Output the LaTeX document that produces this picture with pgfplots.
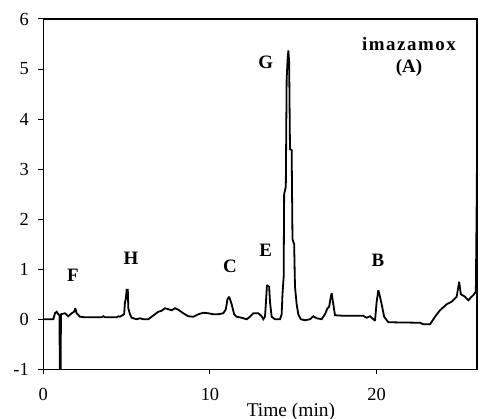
\documentclass[border=0pt]{standalone}
\usepackage{fontspec}
\setmainfont{Liberation Serif}
\usepackage{pgfplots}
\pgfplotsset{compat=1.18}
\begin{document}
\begin{tikzpicture}
\path[use as bounding box] (-43.3bp,-49.7bp) rectangle (436.7bp,369.3bp);
\begin{axis}[
  at={(0,0)}, anchor=south west,
  scale only axis, width=433.7bp, height=350.3bp,
  xmin=0, xmax=26.02, ymin=-1, ymax=6,
  axis line style={line width=1.1bp},
  xtick={0,10,20}, xticklabels={0,10,20},
  ytick={-1,0,1,2,3,4,5,6}, yticklabels={-1,0,1,2,3,4,5,6},
  tick align=outside, xtick pos=bottom, ytick pos=left,
  major tick length=5bp,
  tick style={line width=1bp, black},
  ticklabel style={font=\fontsize{18.5}{20}\selectfont},
  xticklabel style={yshift=-10bp},
  yticklabel style={xshift=-6bp},
  xlabel={Time (min)},
  xlabel style={font=\fontsize{19.5}{22}\selectfont, at={(axis description cs:0.571,0)}, anchor=base, yshift=-46.7bp},
  clip=true,
]
\addplot[black, line width=1.8bp, sharp plot, mark=none, line join=miter, miter limit=2] coordinates {
(0,0.0) (0.6,0.0) (0.7,0.12) (0.8,0.15) (0.9,0.1) (0.97,0.08) (0.99,-1.0) (1.04,-1.0) (1.06,0.1)
(1.3,0.12) (1.5,0.06) (1.7,0.12) (1.85,0.15) (1.92,0.22) (2.0,0.12) (2.2,0.05) (2.5,0.04)
(3.5,0.04) (3.6,0.06) (3.7,0.04) (4.4,0.04) (4.5,0.06) (4.6,0.05) (4.85,0.1) (4.9,0.35)
(4.95,0.4) (5.0,0.59) (5.07,0.59) (5.1,0.22) (5.2,0.1) (5.3,0.03) (5.6,0.0) (5.8,0.02)
(6.0,0.0) (6.3,0.0) (6.5,0.05) (6.7,0.1) (6.9,0.15) (7.1,0.17) (7.3,0.22) (7.5,0.2)
(7.7,0.18) (7.9,0.22) (8.1,0.19) (8.4,0.12) (8.7,0.06) (9.0,0.05) (9.3,0.1) (9.6,0.13)
(9.9,0.12) (10.2,0.1) (10.5,0.1) (10.8,0.12) (10.95,0.2) (11.05,0.4) (11.15,0.45) (11.3,0.3)
(11.45,0.1) (11.6,0.05) (11.9,0.03) (12.2,0.0) (12.4,0.05) (12.6,0.12) (12.9,0.12) (13.1,0.06)
(13.2,0.0) (13.3,0.05) (13.35,0.3) (13.42,0.68) (13.55,0.65) (13.6,0.35) (13.7,0.05) (13.9,0.0)
(14.2,0.0) (14.3,0.1) (14.35,0.5) (14.42,0.85) (14.45,2.5) (14.55,2.65) (14.6,4.8) (14.65,5.15)
(14.7,5.37) (14.75,5.15) (14.8,3.4) (14.9,3.38) (14.95,1.6) (15.05,1.5) (15.1,0.65) (15.2,0.3)
(15.3,0.1) (15.45,0.0) (15.7,-0.02) (16.0,0.0) (16.2,0.06) (16.4,0.02) (16.7,0.0) (16.9,0.1)
(17.05,0.22) (17.15,0.25) (17.25,0.45) (17.3,0.52) (17.4,0.3) (17.5,0.08) (18.0,0.07) (18.5,0.07)
(19.2,0.07) (19.4,0.03) (19.6,0.06) (19.8,0.0) (19.9,-0.03) (20.0,0.35) (20.1,0.58) (20.2,0.45)
(20.3,0.3) (20.45,0.05) (20.7,-0.06) (22.6,-0.07) (22.8,-0.1) (23.2,-0.1) (23.5,0.05) (23.8,0.18)
(24.2,0.3) (24.5,0.35) (24.8,0.45) (24.95,0.75) (25.05,0.5) (25.3,0.45) (25.5,0.38) (25.7,0.45)
(25.85,0.5) (25.95,0.55) (26.0,2.3) (26.02,3.2) (26.04,6.5)
};
\begin{scope}[every node/.style={font=\fontsize{19}{21}\selectfont\bfseries}]
\node at (axis cs:1.78,0.88) {F};
\node at (axis cs:5.26,1.22) {H};
\node at (axis cs:11.2,1.05) {C};
\node at (axis cs:13.34,1.38) {E};
\node at (axis cs:13.34,5.14) {G};
\node at (axis cs:20.08,1.18) {B};
\node at (axis cs:21.94,5.49) {\addfontfeature{LetterSpace=8}imazamox};
\node at (axis cs:21.94,5.03) {(A)};
\end{scope}
\end{axis}
\end{tikzpicture}
\end{document}
